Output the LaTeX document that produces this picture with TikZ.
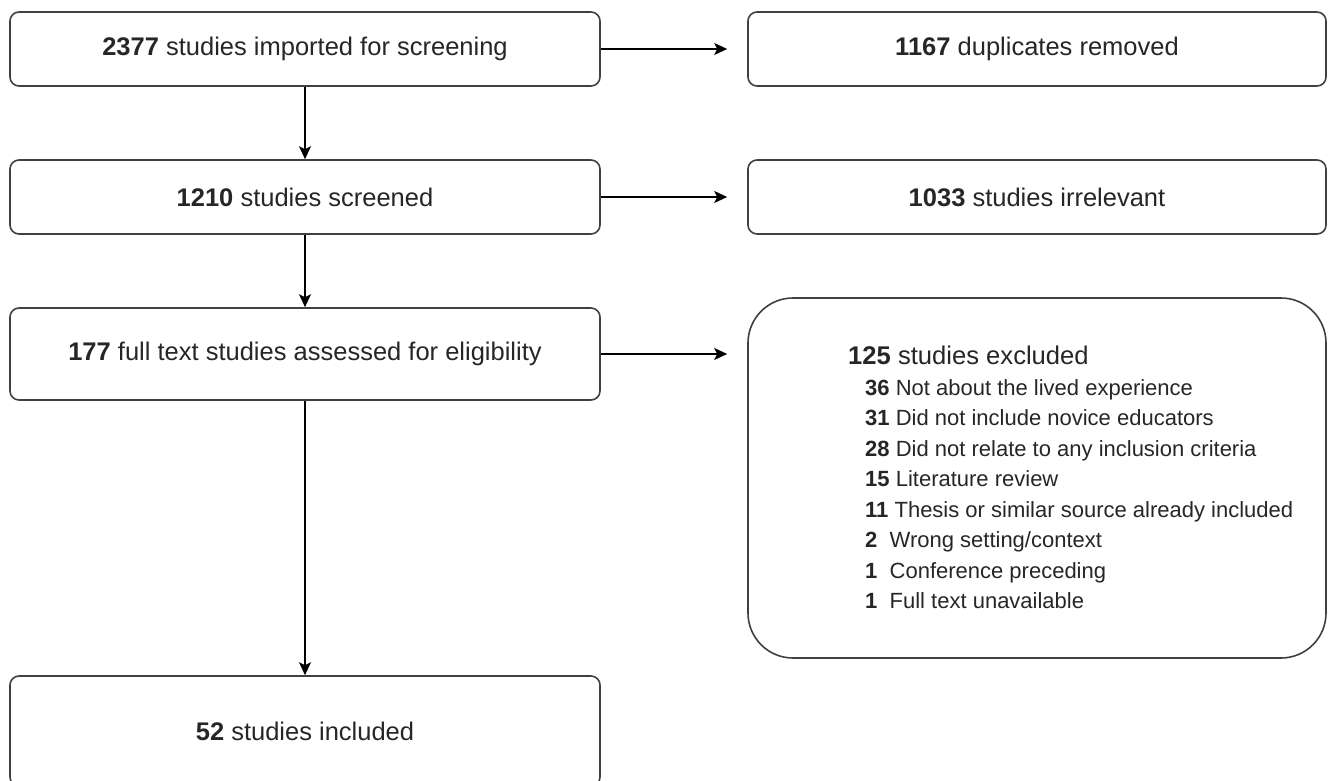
\documentclass[tikz,border=0pt]{standalone}
\usepackage{fontspec}
\setmainfont{Liberation Sans}
\usetikzlibrary{arrows.meta}
\begin{document}
\begin{tikzpicture}[x=1pt,y=-1pt,
  box/.style={draw=black!75, line width=1.6pt, rounded corners=9pt, minimum width=590pt, minimum height=74pt, inner sep=0pt, font=\fontsize{25.5}{30}\selectfont, text=black!85},
  rbox/.style={box, minimum width=578pt},
  item/.style={anchor=base west, inner sep=0pt, font=\fontsize{22}{26}\selectfont, text=black!85},
  arr/.style={-{Stealth[length=13pt,width=12pt,inset=3pt]}, line width=1.6pt, black}]
\useasboundingbox (0,0) rectangle (1328,781);
\begin{scope}
\clip (0,0) rectangle (1328,781);
\node[box] (b1) at (305,49) {\textbf{2377} studies imported for screening};
\node[box] (b2) at (305,197) {\textbf{1210} studies screened};
\node[box, minimum height=92pt] (b3) at (305,354) {\textbf{177} full text studies assessed for eligibility};
\node[box, minimum height=110pt] (b4) at (305,731) {\textbf{52} studies included};
\node[rbox] (r1) at (1037,49) {\textbf{1167} duplicates removed};
\node[rbox] (r2) at (1037,197) {\textbf{1033} studies irrelevant};
\node[rbox, minimum height=360pt, rounded corners=45pt] (r3) at (1037,478) {};
\end{scope}
\node[item, font=\fontsize{25.6}{30}\selectfont] (t0) at (848,364) {\textbf{125} studies excluded};
\node[item] (t1) at (865,395) {\textbf{36} Not about the lived experience};
\node[item] (t2) at (865,425.5) {\textbf{31} Did not include novice educators};
\node[item] (t3) at (865,456) {\textbf{28} Did not relate to any inclusion criteria};
\node[item] (t4) at (865,486.5) {\textbf{15} Literature review};
\node[item] (t5) at (865,517) {\textbf{11} Thesis or similar source already included};
\node[item] (t6) at (865,547.5) {\textbf{2}\ \ Wrong setting/context};
\node[item] (t7) at (865,578) {\textbf{1}\ \ Conference preceding};
\node[item] (t8) at (865,608.5) {\textbf{1}\ \ Full text unavailable};
\draw[arr] (b1) -- (b2);
\draw[arr] (b2) -- (b3);
\draw[arr] (b3) -- (b4);
\draw[arr, shorten >=20pt] (b1.east) -- (r1.west);
\draw[arr, shorten >=20pt] (b2.east) -- (r2.west);
\draw[arr, shorten >=20pt] (b3.east) -- (r3.west |- b3.east);
\end{tikzpicture}
\end{document}
